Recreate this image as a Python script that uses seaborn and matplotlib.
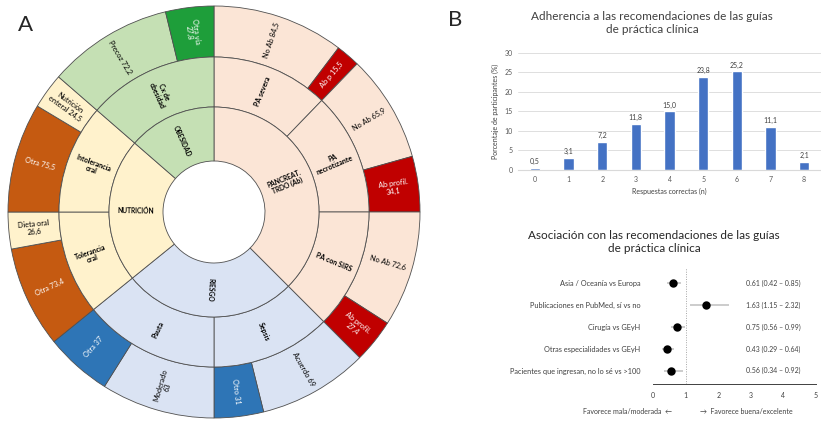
import numpy as np
import matplotlib
matplotlib.use("Agg")
import matplotlib.pyplot as plt
import seaborn as sns

# ---------------- Panel A: sunburst ----------------
inner_labels = ["PANCREAT.\nTRDO (Ab)", "RIESGO", "NUTRICIÓN", "OBESIDAD"]
inner_span = [135, 96, 80, 49]

mid_labels = ["PA severa", "PA\nnecrotizante", "PA con SIRS", "Sepsis", "Pauta",
              "Tolerancia\noral", "Intolerancia\noral", "Cx de\nobesidad"]
mid_span = [44, 46, 45, 45, 51, 39, 41, 49]
mid_group = [0, 0, 0, 1, 1, 2, 2, 3]

outer_labels = ["No Ab 84,5", "Ab p 15,5", "No Ab 65,9", "Ab profil.\n34,1",
                "No Ab 72,6", "Ab profil.\n27,4", "Acuerdo 69", "Otro 31",
                "Moderado\n63", "Otra 37", "Otra 73,4", "Dieta oral\n26,6",
                "Otra 75,5", "Nutrición\nenteral 24,5", "Precoz 72,2", "Otra vía\n27,8"]
outer_pct = [84.5, 15.5, 65.9, 34.1, 72.6, 27.4, 69, 31, 63, 37,
             73.4, 26.6, 75.5, 24.5, 72.2, 27.8]
outer_dark = [0, 1, 0, 1, 0, 1, 0, 1, 0, 1, 1, 0, 1, 0, 0, 1]

light_cols = ["#FBE5D6", "#DAE3F3", "#FFF2CC", "#C5E0B4"]
dark_cols = ["#C00000", "#2E75B6", "#C55A11", "#1E9E3A"]

# ---------------- Panel B: bars ----------------
answers = [0, 1, 2, 3, 4, 5, 6, 7, 8]
pct_participants = [0.5, 3.1, 7.2, 11.8, 15.0, 23.8, 25.2, 11.1, 2.1]
bar_text = ["0,5", "3,1", "7,2", "11,8", "15,0", "23,8", "25,2", "11,1", "2,1"]

# ---------------- Panel B: forest ----------------
factors = ["Asia / Oceanía vs Europa", "Publicaciones en PubMed, sí vs no",
           "Cirugía vs GEyH", "Otras especialidades vs GEyH",
           "Pacientes que ingresan, no lo sé vs >100"]
odds = [0.61, 1.63, 0.75, 0.43, 0.56]
ci_low = [0.42, 1.15, 0.56, 0.29, 0.34]
ci_high = [0.85, 2.32, 0.99, 0.64, 0.92]

sns.set_style("white")
plt.rcParams["font.family"] = ["Lato", "DejaVu Sans"]

W, H = 821, 422
fig = plt.figure(figsize=(W / 100, H / 100), dpi=100)

# ---- sunburst ----
ax = fig.add_axes([(214 - 210) / W, (H - 212 - 210) / H, 420 / W, 420 / H])
edge = dict(edgecolor="#505050", linewidth=0.6)

outer_vals = [mid_span[i // 2] * p / 100 for i, p in enumerate(outer_pct)]
outer_cols = [(dark_cols if d else light_cols)[mid_group[i // 2]] for i, d in enumerate(outer_dark)]
mid_cols = [light_cols[g] for g in mid_group]

ax.pie(outer_vals, radius=206, colors=outer_cols, startangle=90, counterclock=False,
       wedgeprops=dict(width=51, **edge))
ax.pie(mid_span, radius=155, colors=mid_cols, startangle=90, counterclock=False,
       wedgeprops=dict(width=50, **edge))
ax.pie(inner_span, radius=105, colors=light_cols, startangle=90, counterclock=False,
       wedgeprops=dict(width=54, **edge))


def ring_text(spans, labels, r, txt_cols, size, weight="normal"):
    edges = 90 - np.concatenate([[0], np.cumsum(spans)])
    mids = (edges[:-1] + edges[1:]) / 2
    for m, lab, c in zip(mids, labels, txt_cols):
        a = ((m + 180) % 360) - 180
        if -100 <= a <= 90:
            rot = a
        elif a > 90:
            rot = a - 180
        else:
            rot = a + 180
        t = np.deg2rad(m)
        ax.text(r * np.cos(t), r * np.sin(t), lab, rotation=rot, rotation_mode="anchor",
                ha="center", va="center", fontsize=size, color=c, weight=weight,
                linespacing=1.1)


ring_text(outer_vals, outer_labels, 181, ["white" if d else "black" for d in outer_dark], 5.3)
ring_text(mid_span, mid_labels, 130, ["black"] * 8, 5, "bold")
ring_text(inner_span, inner_labels, 78, ["black"] * 4, 4.8, "bold")

ax.set_xlim(-210, 210)
ax.set_ylim(-210, 210)
ax.set_aspect("equal")
ax.axis("off")

fig.text(18 / W, 1 - 25 / H, "A", fontsize=16, ha="left", va="center")
fig.text(448 / W, 1 - 20 / H, "B", fontsize=16, ha="left", va="center")

# ---- bar chart ----
bx = fig.add_axes([518 / W, (H - 170) / H, (821 - 518) / W, (170 - 52.7) / H])
sns.barplot(x=answers, y=pct_participants, color="#4472C4", width=0.3, ax=bx,
            saturation=1)
bx.bar_label(bx.containers[0], labels=bar_text, fontsize=5, padding=2, color="#404040")
bx.set_ylim(0, 30)
bx.set_yticks(range(0, 31, 5))
bx.yaxis.grid(True, color="#D9D9D9", linewidth=0.6)
bx.set_axisbelow(True)
sns.despine(ax=bx, left=True, bottom=False, top=True, right=True)
bx.spines["bottom"].set_color("#D9D9D9")
bx.tick_params(axis="both", labelsize=5, colors="#595959", length=0, pad=4)
bx.set_xlabel("Respuestas correctas (n)", fontsize=5, color="#404040", labelpad=4)
bx.set_ylabel("Porcentaje de participantes (%)", fontsize=5, color="#404040", labelpad=4)
fig.text(652 / W, 1 - 23 / H, "Adherencia a las recomendaciones de las guías\nde práctica clínica",
         ha="center", va="center", fontsize=8.5, color="#404040", linespacing=1.3)

# ---- forest plot ----
fx = fig.add_axes([653 / W, (H - 384) / H, (816 - 653) / W, (384 - 268) / H])
sns.pointplot(x=odds, y=factors, color="black", linestyle="none", markers="o",
              markersize=4, errorbar=None, ax=fx, orient="h")
fx.hlines(range(len(factors)), ci_low, ci_high, color="#BFBFBF", linewidth=1.1, zorder=0)
fx.axvline(1, color="#A6A6A6", linestyle=(0, (1, 1.5)), linewidth=0.7, zorder=0)
for i, (o, lo, hi) in enumerate(zip(odds, ci_low, ci_high)):
    fx.text(2.85, i, f"{o:.2f} ({lo:.2f} – {hi:.2f})", fontsize=5, va="center",
            ha="left", color="#404040")
fx.set_xlim(0, 5)
fx.set_ylim(len(factors) - 0.4, -0.7)
fx.set_xticks(range(6))
sns.despine(ax=fx, left=True, top=True, right=True)
fx.spines["bottom"].set_color("#404040")
fx.spines["bottom"].set_linewidth(0.7)
fx.tick_params(axis="x", labelsize=5, colors="#404040", length=3, width=0.6, pad=3)
fx.tick_params(axis="y", labelsize=5.3, colors="#404040", length=0, pad=9)
fx.set_xlabel("")
fx.set_ylabel("")
fig.text(654 / W, 1 - 242 / H, "Asociación con las recomendaciones de las guías\nde práctica clínica",
         ha="center", va="center", fontsize=8.5, color="#262626", linespacing=1.3)
fig.text(672 / W, 1 - 412 / H, "Favorece mala/moderada  ←", ha="right", va="center",
         fontsize=5, color="#404040")
fig.text(700 / W, 1 - 412 / H, "→  Favorece buena/excelente", ha="left", va="center",
         fontsize=5, color="#404040")

fig.savefig("out.png", dpi=100)
